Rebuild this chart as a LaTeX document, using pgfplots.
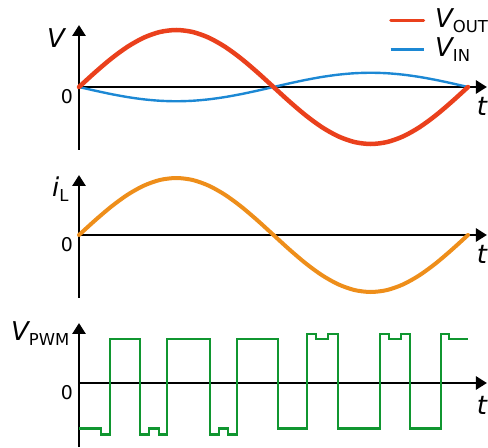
\documentclass[border=0pt]{standalone}
\usepackage{fontspec}
\setmainfont{DejaVu Sans}
\usepackage{pgfplots}
\pgfplotsset{compat=1.18}
\usepackage{pgfplotstable}
\usetikzlibrary{arrows.meta}

\definecolor{vout}{RGB}{234,64,28}
\definecolor{vin}{RGB}{28,136,212}
\definecolor{il}{RGB}{238,142,26}
\definecolor{pwm}{RGB}{16,150,48}

\newcommand{\lsub}[1]{\raisebox{-5bp}{\fontsize{16.5}{16.5}\selectfont\upshape #1}}

% t in units of 15 degrees (one period = 24)
\pgfplotstableread{
t vout vin il
0 0 0 0
1 0.2588 -0.0647 0.2588
2 0.5 -0.125 0.5
3 0.7071 -0.1768 0.7071
4 0.8660 -0.2165 0.8660
5 0.9659 -0.2415 0.9659
6 1 -0.25 1
7 0.9659 -0.2415 0.9659
8 0.8660 -0.2165 0.8660
9 0.7071 -0.1768 0.7071
10 0.5 -0.125 0.5
11 0.2588 -0.0647 0.2588
12 0 0 0
13 -0.2588 0.0647 -0.2588
14 -0.5 0.125 -0.5
15 -0.7071 0.1768 -0.7071
16 -0.8660 0.2165 -0.8660
17 -0.9659 0.2415 -0.9659
18 -1 0.25 -1
19 -0.9659 0.2415 -0.9659
20 -0.8660 0.2165 -0.8660
21 -0.7071 0.1768 -0.7071
22 -0.5 0.125 -0.5
23 -0.2588 0.0647 -0.2588
24 0 0 0
}\sinetable

\pgfplotstableread{
t v
0 -0.795
1.36 -0.9
1.91 0.772
3.76 -0.9
4.32 -0.795
4.94 -0.9
5.43 0.772
8.08 -0.9
8.64 -0.795
9.19 -0.9
9.75 0.772
12.28 -0.795
14.07 0.86
14.62 0.772
15.36 0.86
15.98 -0.795
18.57 0.86
19.13 0.772
19.87 0.86
20.42 -0.795
22.33 0.86
22.83 0.772
24 0.772
}\pwmtable

\pgfplotsset{wave/.style={
  axis lines=middle,
  x=16.208bp, y=57bp,
  xmin=0, xmax=25.17,
  x axis line style={line width=2.7bp, -{Triangle[length=11bp,width=13bp]}},
  y axis line style={line width=2.7bp, -{Triangle[length=11bp,width=13bp]}},
  xtick=\empty, ytick={0},
  hide obscured y ticks=false,
  major tick length=0pt,
  /pgf/number format/assume math mode=true,
  yticklabel style={anchor=north east, inner sep=0pt, xshift=-6bp, yshift=-2bp, font=\fontsize{19}{19}\selectfont},
  clip=false,
  anchor=origin,
}}

\begin{document}
\begin{tikzpicture}
\begin{axis}[wave, at={(79bp,-87bp)}, ymin=-1.105, ymax=1.088,
  reverse legend,
  legend image code/.code={\draw[#1,line width=3bp] (0bp,7bp) -- (33bp,7bp);},
  legend style={draw=none, fill=none, inner sep=0pt, row sep=8bp,
    nodes={inner sep=0pt, anchor=base west, font=\fontsize{26}{26}\selectfont},
    column sep=10bp,
    at={(0.760,1.13)}, anchor=north west},
  legend cell align=left]
\addplot[vin, line width=2.4bp, smooth] table[x=t, y=vin] {\sinetable};
\addlegendentry{\itshape V\lsub{IN}}
\addplot[vout, line width=4.5bp, smooth, line cap=round] table[x=t, y=vout] {\sinetable};
\addlegendentry{\itshape V\lsub{OUT}}
\end{axis}

\begin{axis}[wave, at={(79bp,-235bp)}, ymin=-1.105, ymax=1.053]
\addplot[il, line width=4bp, smooth, line cap=round] table[x=t, y=il] {\sinetable};
\end{axis}

\begin{axis}[wave, at={(79bp,-383bp)}, ymin=-1.123, ymax=1.053]
\addplot[pwm, line width=2.8bp, const plot mark left] table[x=t, y=v] {\pwmtable};
\end{axis}

\node[anchor=base west, inner sep=0pt, font=\fontsize{26}{26}\selectfont\itshape] at (47bp,-47bp) {V};
\node[anchor=base west, inner sep=0pt, font=\fontsize{26}{26}\selectfont\itshape] at (52bp,-196bp) {i\lsub{L}};
\node[anchor=base west, inner sep=0pt, font=\fontsize{26}{26}\selectfont\itshape] at (11bp,-340bp) {V\lsub{PWM}};
\foreach \yy in {106,254,405}
  \node[inner sep=0pt, font=\fontsize{26}{26}\selectfont\itshape] at (482bp,-\yy bp) {t};

\pgfresetboundingbox
\useasboundingbox (0bp,0bp) rectangle (488bp,-448bp);
\end{tikzpicture}
\end{document}
